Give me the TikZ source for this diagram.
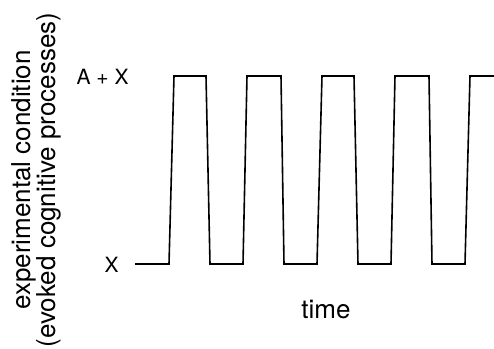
\documentclass[tikz,border=0pt]{standalone}
\usepackage{fontspec}
\setmainfont{TeX Gyre Heros}
\usepackage{tikz}
\usetikzlibrary{positioning}
\tikzstyle{levelmark} = [anchor=east, inner sep=0, font=\fontsize{10.5}{12}\selectfont]
\tikzstyle{axistext} = [inner sep=0, font=\fontsize{13}{12.6}\selectfont]
\tikzstyle{signal} = [line width=0.8pt, line join=miter]

\begin{document}
\begin{tikzpicture}[x=0.5pt, y=-0.5pt]
	  \useasboundingbox (0,0) rectangle (494,349);
	  % levels of the condition
	  \node [levelmark] (high) at (129,77) {A + X};
	  \node [levelmark] (low) at (119,265) {X};
	
	  % axis texts
	  \node [axistext, rotate=90, align=center] (ylab) at (36,180) {experimental condition\\(evoked cognitive processes)};
	  \node [axistext] (xlab) at (326,309) {time};
	
	  % block design: task on / off
	  \draw [signal] (135,264) -- (169,264) -- (174,76) -- (206,76) -- (210,264)
	    -- (243,264) -- (247,76) -- (281,76) -- (284,264)
	    -- (317,264) -- (322,76) -- (354,76) -- (358,264)
	    -- (391,264) -- (395,76) -- (429,76) -- (432,264)
	    -- (465,264) -- (470,76) -- (494,76);
	\end{tikzpicture}
\end{document}
